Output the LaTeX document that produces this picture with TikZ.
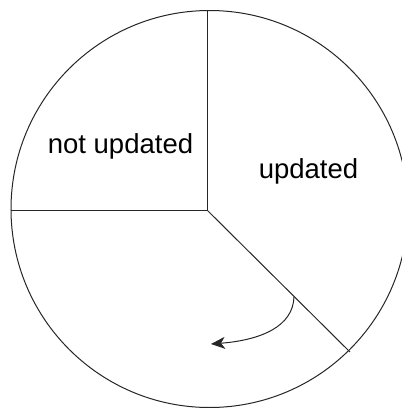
\documentclass[tikz,border=0pt]{standalone}
\usepackage{fontspec}
\setmainfont{Liberation Sans}
\usetikzlibrary{arrows.meta}
\begin{document}
\begin{tikzpicture}[x=1pt,y=-1pt,
  edge/.style={draw=black!85,line width=1pt},
  label/.style={inner sep=0pt,anchor=base,font=\fontsize{27.5}{33}\selectfont},
  pie/.style={circle,draw=black!85,line width=1pt,minimum size=397pt,inner sep=0pt}]
\useasboundingbox (0,0) rectangle (402,408);
\clip (0,0) rectangle (402,408);
\node[pie] (pie) at (209.5,209) {};
\coordinate (c) at (207.5,210.5);
\coordinate (top) at (207.5,10.5);
\coordinate (left) at (11,210.5);
\coordinate (diag) at (350,352);
\coordinate (as) at (294,297);
\coordinate (ae) at (211,344);
\draw[edge] (c) -- (top);
\draw[edge] (c) -- (left);
\draw[edge] (c) -- (diag);
\draw[edge,-{Stealth[length=14pt,width=12pt,inset=4pt]}] (as) .. controls (293,326) and (262,340) .. (ae);
\node[label] (nu) at (120.5,153) {not updated};
\node[label] (u) at (308.5,178) {updated};
\end{tikzpicture}
\end{document}
